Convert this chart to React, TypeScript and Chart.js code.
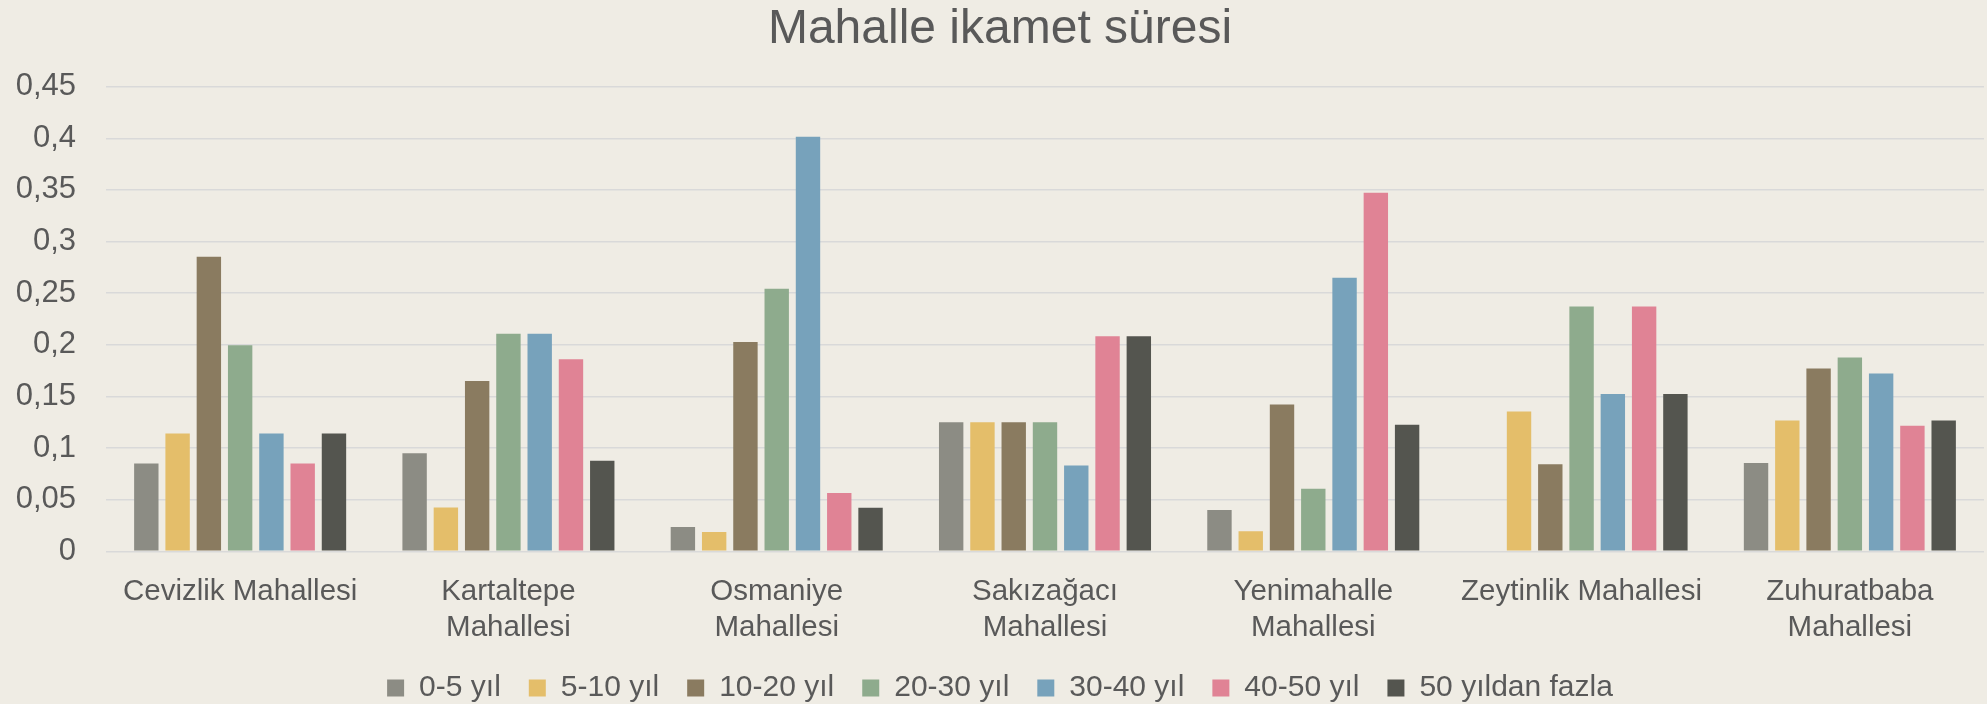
import React, { useEffect, useRef } from 'react';
import { Chart, registerables } from 'chart.js';

Chart.register(...registerables);

const categories: string[][] = [
  ['Cevizlik Mahallesi'],
  ['Kartaltepe', 'Mahallesi'],
  ['Osmaniye', 'Mahallesi'],
  ['Sakızağacı', 'Mahallesi'],
  ['Yenimahalle', 'Mahallesi'],
  ['Zeytinlik Mahallesi'],
  ['Zuhuratbaba', 'Mahallesi'],
];

const seriesNames = ['0-5 yıl', '5-10 yıl', '10-20 yıl', '20-30 yıl', '30-40 yıl', '40-50 yıl', '50 yıldan fazla'];
const seriesColors = ['#8C8C84', '#E4BE6A', '#8A7B60', '#8EAB8D', '#77A2BB', '#E08395', '#54554F'];

const s0to5 = [0.085, 0.095, 0.0235, 0.125, 0.04, 0, 0.0856];
const s5to10 = [0.114, 0.0424, 0.0187, 0.125, 0.0195, 0.1355, 0.1268];
const s10to20 = [0.2853, 0.165, 0.2028, 0.125, 0.1423, 0.0843, 0.177];
const s20to30 = [0.1997, 0.2107, 0.2544, 0.125, 0.0606, 0.237, 0.1877];
const s30to40 = [0.114, 0.2107, 0.4016, 0.0832, 0.2649, 0.1524, 0.1722];
const s40to50 = [0.085, 0.186, 0.0566, 0.2083, 0.3473, 0.237, 0.1216];
const s50plus = [0.114, 0.0878, 0.0423, 0.2083, 0.1226, 0.1524, 0.1268];

const seriesValues = [s0to5, s5to10, s10to20, s20to30, s30to40, s40to50, s50plus];

const titleText = 'Mahalle ikamet süresi';
const yMin = 0;
const yMax = 0.45;
const yStep = 0.05;

const TEXT = '#595959';
const BG = '#EFECE4';
const GRID = '#D9D9D9';
const FONT = '"Liberation Sans", Arial, sans-serif';

export default function App() {
  const ref = useRef<HTMLCanvasElement | null>(null);

  useEffect(() => {
    document.body.style.margin = '0';
    document.body.style.background = BG;
    const canvas = ref.current;
    if (!canvas) return;
    Chart.defaults.font.family = FONT;
    Chart.defaults.color = TEXT;
    const chart = new Chart(canvas, {
      type: 'bar',
      data: {
        labels: categories,
        datasets: seriesNames.map((name, i) => ({
          label: name,
          data: seriesValues[i],
          backgroundColor: seriesColors[i],
          borderWidth: 0,
          categoryPercentage: 0.816,
          barPercentage: 0.78,
        })),
      },
      options: {
        animation: false,
        responsive: false,
        maintainAspectRatio: false,
        layout: { padding: { left: 16, right: 3, top: 0, bottom: -9 } },
        plugins: {
          title: {
            display: true,
            text: titleText,
            color: TEXT,
            font: { size: 48, weight: 'normal', lineHeight: 1 },
            padding: { top: 6, bottom: 32.7 },
          },
          legend: {
            position: 'bottom',
            labels: {
              color: TEXT,
              font: { size: 30 },
              boxWidth: 17,
              boxHeight: 17,
              padding: 28,
            },
          },
          tooltip: { enabled: false },
        },
        scales: {
          x: {
            grid: { display: false, drawTicks: false },
            border: { display: false },
            afterFit: (scale: any) => {
              scale.height = scale.height - 24.3;
            },
            ticks: {
              color: TEXT,
              font: { size: 29.5, lineHeight: 1.22 },
              padding: 23,
              maxRotation: 0,
              autoSkip: false,
            },
          },
          y: {
            min: yMin,
            max: yMax,
            grid: { color: GRID, lineWidth: 1.4, drawTicks: false },
            border: { display: false },
            afterFit: (scale: any) => {
              scale.width = 90;
            },
            ticks: {
              stepSize: yStep,
              color: TEXT,
              font: { size: 31 },
              padding: 30,
              callback: (v: any) => String(Math.round(Number(v) * 100) / 100).replace('.', ','),
            },
          },
        },
      },
    });
    return () => chart.destroy();
  }, []);

  return (
    <div style={{ position: 'fixed', left: 0, top: 0, width: 1987, height: 704, background: BG, overflow: 'hidden' }}>
      <canvas ref={ref} width={1987} height={704} style={{ width: 1987, height: 704, display: 'block' }} />
    </div>
  );
}
